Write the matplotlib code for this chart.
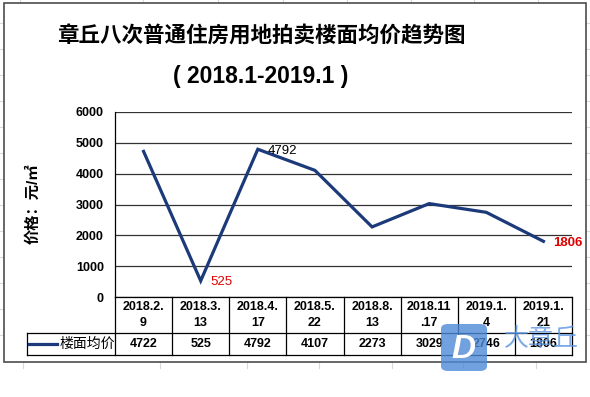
import matplotlib.pyplot as plt
from matplotlib.patches import Rectangle, FancyBboxPatch
from matplotlib.lines import Line2D
import matplotlib.transforms as mtransforms

plt.rcParams['font.family'] = ['Liberation Sans', 'Noto Sans CJK SC']

# Data
dates = ['2018.2.\n9', '2018.3.\n13', '2018.4.\n17', '2018.5.\n22',
         '2018.8.\n13', '2018.11\n.17', '2019.1.\n4', '2019.1.\n21']
prices = [4722, 525, 4792, 4107, 2273, 3029, 2746, 1806]
series_name = '楼面均价'
title = '章丘八次普通住房用地拍卖楼面均价趋势图'
subtitle = '( 2018.1-2019.1 )'
ylabel = '价格：元/㎡'
y_ticks = [0, 1000, 2000, 3000, 4000, 5000, 6000]
# which points get a data label and how it looks
labelled = {1: ('#e00000', 'normal'), 2: ('black', 'normal'), 7: ('#e00000', 'bold')}

W, H = 590, 397
fig = plt.figure(figsize=(W / 100, H / 100), dpi=100)


def fx(x):
    return x / W


def fy(y):
    return 1 - y / H


# faint spreadsheet cell lines around the chart
grid_c = '#d9d9d9'
gkw = dict(color=grid_c, lw=0.8, zorder=-3)
for x in [20, 143, 218, 283, 347, 411, 474, 538]:
    fig.add_artist(Line2D([fx(x)] * 2, [fy(0), fy(4)], **gkw))
for x in [23, 160, 247, 319, 392, 463, 536]:
    fig.add_artist(Line2D([fx(x)] * 2, [fy(362), fy(368)], **gkw))
for y in [23, 49, 75, 101, 127, 153, 179, 205, 231, 257, 283, 309, 335]:
    fig.add_artist(Line2D([fx(0), fx(4)], [fy(y)] * 2, **gkw))
    fig.add_artist(Line2D([fx(586), fx(590)], [fy(y)] * 2, **gkw))

# chart frame
fig.add_artist(Rectangle((fx(4), fy(362)), 582 / W, 359 / H, transform=fig.transFigure,
                         facecolor='white', edgecolor='#4d4d4d', lw=1.2, zorder=-2))

fig.text(fx(261), fy(37), title, ha='center', va='center', fontsize=15.5, fontweight='heavy')
fig.text(fx(261), fy(77), subtitle, ha='center', va='center', fontsize=16.5, fontweight='bold')
fig.text(fx(33), fy(204), ylabel, ha='center', va='center', rotation=90,
         fontsize=11, fontweight='heavy')

# plot area
ax_l, ax_r, ax_t, ax_b = 115, 572, 112, 297
ax = fig.add_axes([fx(ax_l), fy(ax_b), (ax_r - ax_l) / W, (ax_b - ax_t) / H])
ax.set_facecolor('none')
x = list(range(len(prices)))
ax.plot(x, prices, color='#1c3a7a', lw=2.3, solid_joinstyle='miter', zorder=3)
ax.set_xlim(-0.5, len(prices) - 0.5)
ax.set_ylim(0, 6000)
ax.set_yticks(y_ticks)
ax.set_yticklabels([str(v) for v in y_ticks], fontsize=9, fontweight='bold')
ax.set_xticks([])
ax.tick_params(axis='y', length=0, pad=8)
for s in ['top', 'right', 'bottom']:
    ax.spines[s].set_visible(False)
ax.spines['left'].set_color('black')
ax.spines['left'].set_linewidth(0.9)
ax.yaxis.grid(True, color='#333333', lw=0.9)
ax.set_axisbelow(True)

for i, (c, w) in labelled.items():
    ax.annotate(str(prices[i]), (i, prices[i]), textcoords='offset points', xytext=(7, -1),
                ha='left', va='center', fontsize=9.5, color=c, fontweight=w)

# data table under the plot
ph = ax_b - ax_t
r0, r1, r2 = 0, -36 / ph, -58 / ph
leg_l = (27 - ax_l) / (ax_r - ax_l)
bt = mtransforms.blended_transform_factory(ax.transData, ax.transAxes)
n = len(prices)
kw = dict(color='black', lw=0.9, clip_on=False)
ax.add_line(Line2D([-0.5, n - 0.5], [r0, r0], transform=bt, **kw))
for r in (r1, r2):
    ax.add_line(Line2D([leg_l, 1], [r, r], transform=ax.transAxes, **kw))
for i in range(n + 1):
    ax.add_line(Line2D([i - 0.5, i - 0.5], [r0, r2], transform=bt, **kw))
ax.add_line(Line2D([leg_l, leg_l], [r1, r2], transform=ax.transAxes, **kw))

for i in range(n):
    ax.text(i, (r0 + r1) / 2, dates[i], transform=bt, ha='center', va='center',
            fontsize=9, fontweight='bold', linespacing=1.35)
    ax.text(i, (r1 + r2) / 2, str(prices[i]), transform=bt, ha='center', va='center',
            fontsize=9, fontweight='bold')

ym = (r1 + r2) / 2
ax.add_line(Line2D([(29 - ax_l) / (ax_r - ax_l), (57 - ax_l) / (ax_r - ax_l)], [ym, ym],
                   transform=ax.transAxes, color='#1c3a7a', lw=2.3, clip_on=False))
ax.text((60 - ax_l) / (ax_r - ax_l), ym, series_name, transform=ax.transAxes,
        ha='left', va='center', fontsize=10)

# watermark
fig.add_artist(FancyBboxPatch((fx(441), fy(371)), 46 / W, 47 / H, transform=fig.transFigure,
                              boxstyle='round,pad=0,rounding_size=0.012',
                              facecolor='#4f8ad8', edgecolor='none', alpha=0.8, zorder=5))
fig.text(fx(463), fy(349), 'D', ha='center', va='center', fontsize=24, fontweight='bold',
         style='italic', color='white', zorder=6)
fig.text(fx(541), fy(339), '大章丘', ha='center', va='center', fontsize=18,
         color='#5b95e0', alpha=0.8, zorder=6)

fig.savefig('out.png', dpi=100)
